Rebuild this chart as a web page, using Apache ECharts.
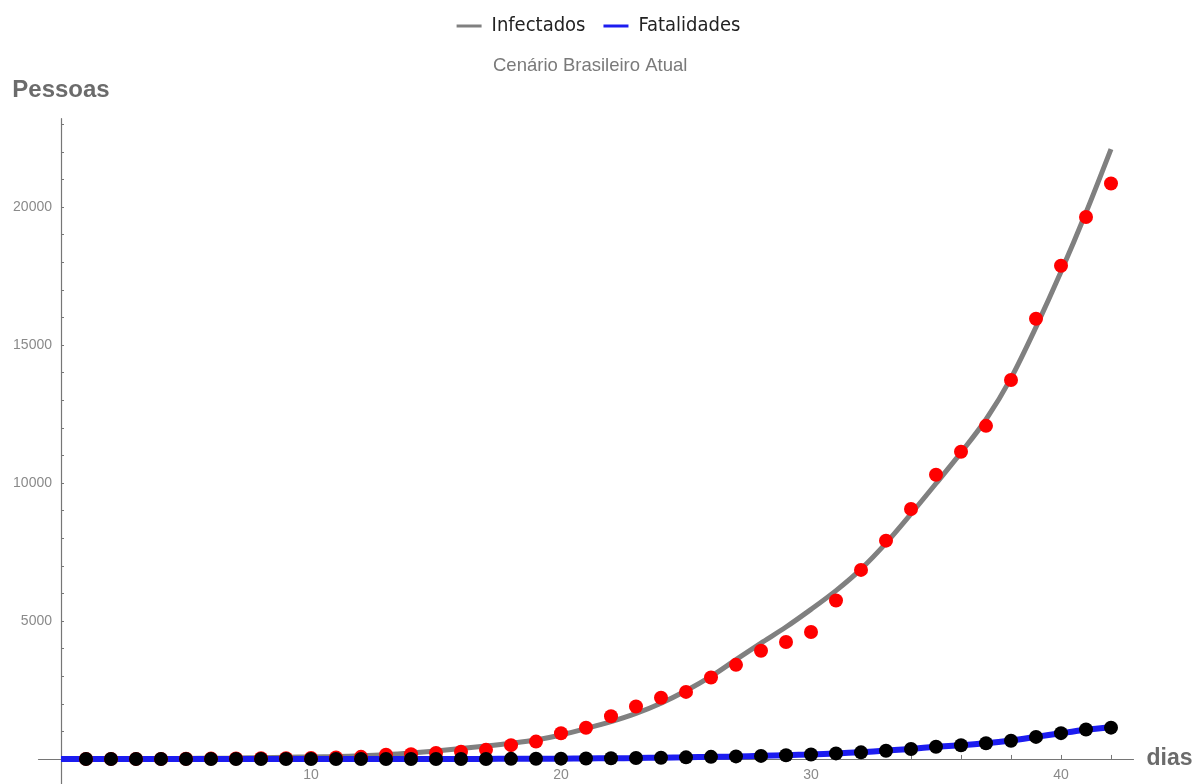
<!DOCTYPE html>
<html>
<head>
<meta charset="utf-8">
<title>Cenário Brasileiro Atual</title>
<script src="https://cdn.jsdelivr.net/npm/echarts@6/dist/echarts.min.js"></script>
<style>
  html, body { margin: 0; padding: 0; background: #ffffff; }
  #chart { width: 1197px; height: 784px; }
</style>
</head>
<body>
<div id="chart"></div>
<script>
// Days since the first record (1 .. 42)
const days = [1,2,3,4,5,6,7,8,9,10,11,12,13,14,15,16,17,18,19,20,21,
              22,23,24,25,26,27,28,29,30,31,32,33,34,35,36,37,38,39,40,41,42];

// Confirmed cases per day (red points)
const casos = [2,2,2,3,8,13,19,25,25,34,52,77,150,170,220,260,330,500,630,930,1130,
               1550,1900,2220,2430,2950,3410,3920,4240,4600,5740,6850,7910,9060,10300,11130,12070,13730,15950,17870,19640,20850];

// Deaths per day (black points)
const obitos = [0,0,0,0,0,0,0,0,0,0,0,0,0,0,0,0,1,4,7,11,18,
                25,34,46,59,77,92,111,136,159,201,240,300,360,445,495,570,660,800,935,1070,1135];

// Model curves, sampled once per day from day 0 to day 42
const curveDays = [0,1,2,3,4,5,6,7,8,9,10,11,12,13,14,15,16,17,18,19,20,21,
                   22,23,24,25,26,27,28,29,30,31,32,33,34,35,36,37,38,39,40,41,42];
const infectadosModel = [3,5,7,10,14,19,26,35,46,60,75,92,115,155,215,290,380,470,570,690,870,1100,
                         1350,1650,2020,2470,2990,3600,4200,4780,5420,6100,6880,7820,8880,9980,11100,12300,13800,15650,17650,19800,22100];
const fatalidadesModel = [0,0,0,0,0,0,0,0,0,0,0,0,0,0,0,0,0,2,5,8,12,18,
                          26,35,46,60,76,93,112,136,162,200,245,305,365,440,500,570,670,800,935,1060,1150];

// Axis ticks and labels
const xTicks = [2,4,6,8,10,12,14,16,18,20,22,24,26,28,30,32,34,36,38,40,42];
const xLabels = [10,20,30,40];
const yTicks = [1000,2000,3000,4000,5000,6000,7000,8000,9000,10000,11000,12000,
                13000,14000,15000,16000,17000,18000,19000,20000,21000,22000,23000];
const yLabels = [5000,10000,15000,20000];

const pairs = (xs, ys) => xs.map((x, i) => [x, ys[i]]);

const FONT = '"Liberation Sans", Arial, sans-serif';

// Pick a condensed face for the legend when one is installed
function hasFont(name) {
  const c = document.createElement('canvas').getContext('2d');
  const probe = 'Infectados Fatalidades 0123';
  c.font = '40px monospace';
  const base = c.measureText(probe).width;
  c.font = '40px "' + name + '", monospace';
  return Math.abs(c.measureText(probe).width - base) > 0.5;
}
const narrowFace = ['Liberation Sans Narrow', 'DejaVu Sans Condensed', 'Roboto Condensed'].find(hasFont);
const LEGEND_FONT = narrowFace ? '"' + narrowFace + '", ' + FONT : FONT;
const LEGEND_SIZE = narrowFace === 'Liberation Sans Narrow' ? 24 : (narrowFace ? 20 : 20);

const AXIS_COLOR = '#767676';

// Plot area: x from -0.9 to 42.9, y from -900 to 23200; the axes cross at (0, 0)
const X_MIN = -0.9, X_MAX = 42.9, Y_MIN = -900, Y_MAX = 23200;
const GRID = { left: 38.5, right: 63.5, top: 118.7, bottom: 0.2 };
const plotW = 1197 - GRID.left - GRID.right;
const plotH = 784 - GRID.top - GRID.bottom;
const yAxisShift = -(0 - X_MIN) / (X_MAX - X_MIN) * plotW;   // move y axis right onto x = 0
const xAxisShift = -(0 - Y_MIN) / (Y_MAX - Y_MIN) * plotH;   // move x axis up onto y = 0

const chart = echarts.init(document.getElementById('chart'), null, { renderer: 'canvas' });

chart.setOption({
  backgroundColor: '#ffffff',
  animation: false,
  textStyle: { fontFamily: FONT },
  title: {
    text: 'Cenário Brasileiro Atual',
    left: 488,
    top: 51,
    textStyle: { fontFamily: FONT, fontSize: 18.5, fontWeight: 'normal', color: '#7a7a7a' }
  },
  legend: {
    data: ['Infectados', 'Fatalidades'],
    left: 'center',
    top: 11,
    icon: 'rect',
    itemWidth: 25,
    itemHeight: 3,
    itemGap: 18,
    textStyle: { fontFamily: LEGEND_FONT, fontSize: LEGEND_SIZE, color: '#222222', padding: [0, 0, 0, 5] }
  },
  grid: {
    left: GRID.left,
    right: GRID.right,
    top: GRID.top,
    bottom: GRID.bottom,
    containLabel: false,
    outerBoundsMode: 'none'
  },
  xAxis: {
    type: 'value',
    position: 'bottom',
    offset: xAxisShift,
    min: X_MIN,
    max: X_MAX,
    name: 'dias',
    nameLocation: 'end',
    nameGap: 13,
    nameTextStyle: { fontFamily: FONT, fontSize: 23, fontWeight: 'bold', color: '#6b6b6b', verticalAlign: 'middle' },
    axisLine: { show: true, onZero: false, lineStyle: { color: AXIS_COLOR, width: 1.2 } },
    axisTick: { show: true, inside: true, length: 4, customValues: xTicks, lineStyle: { color: AXIS_COLOR } },
    axisLabel: {
      show: true,
      customValues: xLabels,
      color: '#8a8a8a',
      fontSize: 14,
      margin: 9,
      fontFamily: FONT,
      formatter: (v) => String(v)
    },
    splitLine: { show: false }
  },
  yAxis: {
    type: 'value',
    position: 'left',
    offset: yAxisShift,
    min: Y_MIN,
    max: Y_MAX,
    name: 'Pessoas',
    nameLocation: 'end',
    nameGap: 16,
    nameTextStyle: { fontFamily: FONT, fontSize: 24, fontWeight: 'bold', color: '#6b6b6b', align: 'center' },
    axisLine: { show: true, onZero: false, lineStyle: { color: AXIS_COLOR, width: 1.2 } },
    axisTick: { show: true, inside: true, length: 3, customValues: yTicks, lineStyle: { color: AXIS_COLOR } },
    axisLabel: {
      customValues: yLabels,
      color: '#8a8a8a',
      fontSize: 14,
      margin: 9,
      fontFamily: FONT,
      formatter: (v) => String(v)
    },
    splitLine: { show: false }
  },
  series: [
    {
      name: 'Infectados',
      type: 'line',
      data: pairs(curveDays, infectadosModel),
      smooth: 0.3,
      showSymbol: false,
      itemStyle: { color: '#808080' },
      lineStyle: { color: '#808080', width: 5 },
      z: 1
    },
    {
      name: 'Fatalidades',
      type: 'line',
      data: pairs(curveDays, fatalidadesModel),
      smooth: 0.3,
      showSymbol: false,
      itemStyle: { color: '#1c1cf0' },
      lineStyle: { color: '#1c1cf0', width: 6 },
      z: 2
    },
    {
      name: 'Casos',
      type: 'scatter',
      data: pairs(days, casos),
      symbol: 'circle',
      symbolSize: 14,
      itemStyle: { color: '#ff0000', opacity: 1 },
      z: 3
    },
    {
      name: 'Óbitos',
      type: 'scatter',
      data: pairs(days, obitos),
      symbol: 'circle',
      symbolSize: 14,
      itemStyle: { color: '#000000', opacity: 1 },
      z: 4
    }
  ]
});
</script>
</body>
</html>
